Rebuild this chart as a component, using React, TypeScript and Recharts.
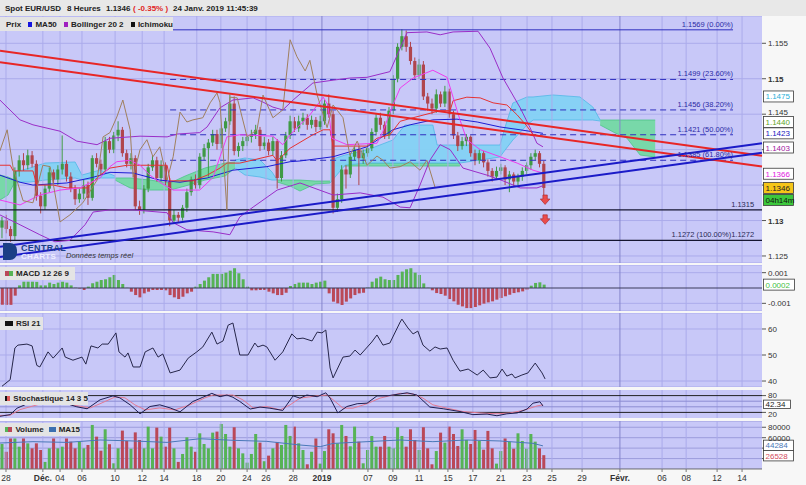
import React from 'react';
import {
  ComposedChart, Bar, Line, Area, Scatter, XAxis, YAxis, CartesianGrid,
  ReferenceLine, ReferenceDot, Cell,
} from 'recharts';

const FONT = '"Liberation Sans", Arial, Helvetica, sans-serif';
const CHART_W = 806;
const AXIS_W = 44;
const X_DOMAIN: [number, number] = [-0.465, 176.74];
const PLOT_BG = '#c8c8f8';
const GRID = '#ababeb';
const GRID_DARK = '#8585cc';
const UP = '#3f9a45';
const DOWN = '#b0454d';
const VOL_UP = '#56b356';
const VOL_DOWN = '#ba4858';

// ---------- x axis (8-hour candle slots) ----------
const tickPositions = [0.93, 9.5, 13.5, 18.6, 26.3, 32.6, 37.7, 45.3, 50.9, 57, 61.4, 67.7, 74.4, 85.1, 90.9, 97, 103.7, 109.5, 116, 122.1, 127.9, 134.9, 143.7, 153.5, 159.1, 166.3, 172.1];
const tickLabels = ['28', 'Déc.', '04', '06', '10', '12', '14', '18', '20', '24', '26', '28', '2019', '07', '09', '11', '15', '17', '21', '23', '25', '29', 'Févr.', '06', '08', '12', '14'];
const boldTickLabels = ['Déc.', '2019', 'Févr.'];
const darkGridLabels = ['2019', 'Févr.'];

// ---------- candles ----------
const opens = [
  1.1290, 1.1300, 1.1288, 1.1278, 1.1370, 1.1385, 1.1378, 1.1392, 1.1380, 1.1335,
  1.1320, 1.1345, 1.1368, 1.1358, 1.1372, 1.1380, 1.1362, 1.1345, 1.1330, 1.1338,
  1.1350, 1.1332, 1.1388, 1.1380, 1.1372, 1.1412, 1.1400, 1.1420, 1.1428, 1.1395,
  1.1380, 1.1388, 1.1320, 1.1315, 1.1345, 1.1375, 1.1385, 1.1360, 1.1378, 1.1355,
  1.1300, 1.1308, 1.1304, 1.1318, 1.1340, 1.1358, 1.1350, 1.1390, 1.1402, 1.1410,
  1.1422, 1.1408, 1.1430, 1.1440, 1.1465, 1.1398, 1.1405, 1.1412, 1.1418, 1.1422,
  1.1428, 1.1405, 1.1410, 1.1398, 1.1412, 1.1360, 1.1392, 1.1420, 1.1440, 1.1430,
  1.1440, 1.1445, 1.1435, 1.1442, 1.1432, 1.1440, 1.1465, 1.1450, 1.1318, 1.1330,
  1.1372, 1.1365, 1.1390, 1.1400, 1.1388, 1.1395, 1.1402, 1.1425, 1.1445, 1.1435,
  1.1420, 1.1455, 1.1500, 1.1545, 1.1560, 1.1545, 1.1525, 1.1505, 1.1520, 1.1475,
  1.1465, 1.1458, 1.1478, 1.1465, 1.1482, 1.1450, 1.1420, 1.1405, 1.1412, 1.1418,
  1.1395, 1.1385, 1.1395, 1.1382, 1.1370, 1.1362, 1.1370, 1.1375, 1.1358, 1.1365,
  1.1355, 1.1362, 1.1370, 1.1378, 1.1390, 1.1395, 1.1380,
];
const highs = [
  1.1305, 1.1308, 1.1292, 1.1375, 1.1392, 1.1395, 1.1400, 1.1398, 1.1385, 1.1340,
  1.1350, 1.1375, 1.1372, 1.1378, 1.1420, 1.1385, 1.1368, 1.1350, 1.1345, 1.1358,
  1.1355, 1.1392, 1.1395, 1.1386, 1.1418, 1.1418, 1.1425, 1.1440, 1.1432, 1.1400,
  1.1395, 1.1392, 1.1328, 1.1350, 1.1380, 1.1392, 1.1390, 1.1385, 1.1382, 1.1360,
  1.1315, 1.1312, 1.1322, 1.1345, 1.1362, 1.1365, 1.1395, 1.1408, 1.1415, 1.1428,
  1.1428, 1.1435, 1.1445, 1.1478, 1.1475, 1.1410, 1.1418, 1.1422, 1.1428, 1.1435,
  1.1432, 1.1418, 1.1415, 1.1418, 1.1415, 1.1398, 1.1425, 1.1448, 1.1446, 1.1448,
  1.1452, 1.1450, 1.1448, 1.1446, 1.1448, 1.1470, 1.1478, 1.1455, 1.1338, 1.1378,
  1.1378, 1.1395, 1.1405, 1.1405, 1.1400, 1.1408, 1.1430, 1.1450, 1.1452, 1.1440,
  1.1460, 1.1505, 1.1550, 1.1570, 1.1568, 1.1552, 1.1530, 1.1528, 1.1525, 1.1480,
  1.1472, 1.1485, 1.1482, 1.1490, 1.1486, 1.1455, 1.1425, 1.1418, 1.1422, 1.1420,
  1.1400, 1.1400, 1.1398, 1.1386, 1.1374, 1.1376, 1.1380, 1.1378, 1.1370, 1.1368,
  1.1366, 1.1375, 1.1382, 1.1395, 1.1400, 1.1398, 1.1384,
];
const lows = [
  1.1275, 1.1282, 1.1270, 1.1272, 1.1362, 1.1370, 1.1372, 1.1375, 1.1328, 1.1310,
  1.1315, 1.1340, 1.1352, 1.1350, 1.1365, 1.1355, 1.1340, 1.1322, 1.1325, 1.1330,
  1.1322, 1.1328, 1.1375, 1.1365, 1.1368, 1.1395, 1.1395, 1.1412, 1.1390, 1.1375,
  1.1372, 1.1315, 1.1308, 1.1310, 1.1340, 1.1370, 1.1355, 1.1355, 1.1350, 1.1292,
  1.1295, 1.1298, 1.1300, 1.1312, 1.1335, 1.1345, 1.1345, 1.1385, 1.1362, 1.1405,
  1.1400, 1.1402, 1.1425, 1.1435, 1.1392, 1.1390, 1.1398, 1.1405, 1.1410, 1.1415,
  1.1398, 1.1400, 1.1392, 1.1392, 1.1345, 1.1355, 1.1388, 1.1415, 1.1425, 1.1425,
  1.1435, 1.1428, 1.1430, 1.1425, 1.1428, 1.1435, 1.1445, 1.1310, 1.1312, 1.1325,
  1.1345, 1.1360, 1.1385, 1.1350, 1.1380, 1.1390, 1.1398, 1.1420, 1.1428, 1.1415,
  1.1415, 1.1450, 1.1495, 1.1540, 1.1538, 1.1520, 1.1500, 1.1500, 1.1470, 1.1455,
  1.1450, 1.1452, 1.1460, 1.1460, 1.1445, 1.1415, 1.1398, 1.1400, 1.1405, 1.1390,
  1.1378, 1.1380, 1.1375, 1.1362, 1.1355, 1.1358, 1.1365, 1.1350, 1.1340, 1.1348,
  1.1350, 1.1356, 1.1365, 1.1372, 1.1385, 1.1375, 1.1330,
];
const closes = [
  1.1300, 1.1288, 1.1278, 1.1370, 1.1385, 1.1378, 1.1392, 1.1380, 1.1335, 1.1320,
  1.1345, 1.1368, 1.1358, 1.1372, 1.1380, 1.1362, 1.1345, 1.1330, 1.1338, 1.1350,
  1.1332, 1.1388, 1.1380, 1.1372, 1.1412, 1.1400, 1.1420, 1.1428, 1.1395, 1.1380,
  1.1388, 1.1320, 1.1315, 1.1345, 1.1375, 1.1385, 1.1360, 1.1378, 1.1355, 1.1300,
  1.1308, 1.1304, 1.1318, 1.1340, 1.1358, 1.1350, 1.1390, 1.1402, 1.1410, 1.1422,
  1.1408, 1.1430, 1.1440, 1.1465, 1.1398, 1.1405, 1.1412, 1.1418, 1.1422, 1.1428,
  1.1405, 1.1410, 1.1398, 1.1412, 1.1360, 1.1392, 1.1420, 1.1440, 1.1430, 1.1440,
  1.1445, 1.1435, 1.1442, 1.1432, 1.1440, 1.1465, 1.1450, 1.1318, 1.1330, 1.1372,
  1.1365, 1.1390, 1.1400, 1.1388, 1.1395, 1.1402, 1.1425, 1.1445, 1.1435, 1.1420,
  1.1455, 1.1500, 1.1545, 1.1560, 1.1545, 1.1525, 1.1505, 1.1520, 1.1475, 1.1465,
  1.1458, 1.1478, 1.1465, 1.1482, 1.1450, 1.1420, 1.1405, 1.1412, 1.1418, 1.1395,
  1.1385, 1.1395, 1.1382, 1.1370, 1.1362, 1.1370, 1.1375, 1.1358, 1.1365, 1.1355,
  1.1362, 1.1370, 1.1378, 1.1390, 1.1395, 1.1380, 1.1346,
];

// ---------- overlays: [slot, price] ----------
const bollUpper = [[-0.5, 1.1470], [4.2, 1.1442], [7.2, 1.1435], [13.5, 1.1426], [17.4, 1.1412], [22.1, 1.1407], [25.1, 1.1416], [32.1, 1.1419], [38.4, 1.1418], [40.7, 1.1422], [46.0, 1.1424], [47.7, 1.1432], [50.7, 1.1459], [53.7, 1.1470], [58.4, 1.1473], [60.7, 1.1467], [63.0, 1.1460], [65.3, 1.1456], [67.7, 1.1470], [72.3, 1.1494], [77.0, 1.1498], [80.9, 1.1501], [84.9, 1.1502], [90.2, 1.1510], [92.6, 1.1543], [94.2, 1.1565], [98.8, 1.1566], [101.9, 1.1562], [104.9, 1.1566], [110.7, 1.1567], [113.5, 1.1543], [116.5, 1.1501], [120.5, 1.1459], [122.8, 1.1431], [124.4, 1.1409], [125.8, 1.1404]];
const bollLower = [[-0.5, 1.1308], [4.2, 1.1294], [8.8, 1.1280], [12.3, 1.1270], [15.8, 1.1272], [19.3, 1.1294], [21.2, 1.1312], [25.1, 1.1315], [30.5, 1.1315], [38.4, 1.1311], [39.8, 1.1297], [43.0, 1.1287], [49.1, 1.1284], [53.0, 1.1280], [55.3, 1.1305], [58.4, 1.1319], [64.0, 1.1343], [69.3, 1.1353], [77.0, 1.1336], [83.3, 1.1339], [88.6, 1.1333], [92.6, 1.1319], [94.9, 1.1318], [97.2, 1.1350], [99.5, 1.1385], [101.9, 1.1407], [104.2, 1.1400], [107.2, 1.1374], [112.8, 1.1364], [116.5, 1.1356], [120.5, 1.1346], [124.4, 1.1346], [125.8, 1.1349]];
const tenkan = [[-0.5, 1.1329], [4.2, 1.1322], [8.8, 1.1336], [13.5, 1.1343], [18.1, 1.1346], [22.8, 1.1360], [25.1, 1.1376], [26.7, 1.1383], [29.8, 1.1385], [32.1, 1.1378], [34.4, 1.1364], [36.7, 1.1354], [39.8, 1.1343], [46.0, 1.1343], [49.1, 1.1361], [50.7, 1.1390], [52.3, 1.1418], [55.3, 1.1421], [63.0, 1.1419], [65.3, 1.1407], [67.0, 1.1421], [69.3, 1.1435], [71.6, 1.1449], [74.7, 1.1474], [75.8, 1.1463], [76.7, 1.1416], [80.2, 1.1407], [87.2, 1.1409], [88.6, 1.1426], [90.9, 1.1463], [92.6, 1.1487], [95.6, 1.1501], [100.2, 1.1512], [103.5, 1.1502], [104.9, 1.1474], [106.5, 1.1442], [108.1, 1.1414], [111.2, 1.1400], [115.8, 1.1390], [119.8, 1.1381], [123.5, 1.1371], [125.8, 1.1367]];
const kijun = [[-0.5, 1.1378], [1.9, 1.1378], [2.6, 1.1370], [7.2, 1.1370], [8.1, 1.1350], [11.9, 1.1350], [15.1, 1.1346], [19.8, 1.1346], [22.8, 1.1364], [25.1, 1.1374], [29.1, 1.1378], [38.4, 1.1378], [39.1, 1.1356], [44.4, 1.1356], [47.7, 1.1364], [50.7, 1.1374], [52.3, 1.1381], [55.3, 1.1381], [63.0, 1.1392], [64.0, 1.1384], [67.0, 1.1402], [72.3, 1.1421], [74.7, 1.1428], [76.3, 1.1428], [77.0, 1.1405], [84.9, 1.1405], [87.2, 1.1416], [90.2, 1.1421], [92.6, 1.1440], [95.6, 1.1445], [101.9, 1.1455], [104.2, 1.1455], [104.9, 1.1469], [108.1, 1.1474], [111.2, 1.1473], [114.2, 1.1466], [117.4, 1.1463], [119.8, 1.1449], [122.1, 1.1433], [123.5, 1.1421], [125.8, 1.1419]];
const ma50 = [[-0.5, 1.1364], [4.2, 1.1354], [7.2, 1.1350], [15.1, 1.1353], [21.2, 1.1361], [25.1, 1.1368], [30.5, 1.1367], [36.7, 1.1357], [41.4, 1.1354], [47.7, 1.1360], [53.7, 1.1371], [61.6, 1.1376], [67.0, 1.1383], [69.3, 1.1384], [77.0, 1.1390], [84.9, 1.1404], [90.9, 1.1428], [94.9, 1.1435], [100.2, 1.1442], [105.8, 1.1443], [110.5, 1.1439], [115.8, 1.1432], [120.5, 1.1428], [125.8, 1.1423]];
const chikou = [[-0.5, 1.1398], [1.2, 1.1428], [2.6, 1.1374], [4.9, 1.1328], [7.2, 1.1325], [9.5, 1.1378], [11.2, 1.1376], [13.5, 1.1298], [15.8, 1.1308], [18.8, 1.1325], [22.1, 1.1357], [23.5, 1.1418], [25.1, 1.1424], [26.7, 1.1446], [28.1, 1.1470], [29.8, 1.1428], [30.5, 1.1361], [32.1, 1.1400], [33.7, 1.1414], [35.1, 1.1390], [36.7, 1.1404], [38.4, 1.1357], [39.8, 1.1390], [41.4, 1.1453], [43.0, 1.1439], [44.4, 1.1442], [46.7, 1.1445], [48.4, 1.1466], [50.0, 1.1480], [50.7, 1.1466], [52.3, 1.1315], [53.0, 1.1474], [54.7, 1.1473], [57.0, 1.1418], [59.3, 1.1428], [60.7, 1.1477], [63.0, 1.1445], [65.3, 1.1456], [67.0, 1.1555], [68.6, 1.1531], [70.5, 1.1511], [71.6, 1.1526], [73.3, 1.1477], [75.6, 1.1431], [77.0, 1.1463], [79.3, 1.1445], [80.9, 1.1392], [82.6, 1.1412], [84.9, 1.1378], [87.2, 1.1391], [88.6, 1.1385], [90.2, 1.1374], [92.6, 1.1376], [94.9, 1.1383], [97.2, 1.1371], [98.8, 1.1385], [100.7, 1.1347]];

// ---------- Ichimoku cloud pieces: [slot, low, high] ----------
const cloudGreen1 = [[-0.5, 1.13289, 1.13642], [1.4, 1.1336, 1.13614], [3.0, 1.13543, 1.13571]];
const cloudCyan1 = [[3.0, 1.13543, 1.13684], [6.5, 1.13543, 1.13741], [10.0, 1.13571, 1.13811], [17.0, 1.1360, 1.13826], [18.6, 1.13571, 1.13642], [22.8, 1.1360, 1.13712], [26.3, 1.1360, 1.13628]];
const cloudGreen2 = [[26.3, 1.13571, 1.1360], [29.8, 1.13459, 1.1360], [34.4, 1.1343, 1.13571], [39.1, 1.1343, 1.13529], [42.6, 1.13487, 1.13628], [47.2, 1.13571, 1.13741], [51.9, 1.13628, 1.13811], [54.2, 1.13741, 1.13826]];
const cloudCyan2 = [[54.2, 1.13741, 1.13854], [56.5, 1.13642, 1.13882], [60.0, 1.13614, 1.13854], [62.8, 1.13571, 1.13684], [64.0, 1.13571, 1.13571]];
const cloudGreen3 = [[64.0, 1.13543, 1.13571], [67.0, 1.13487, 1.13571], [69.3, 1.13416, 1.13571], [72.8, 1.13515, 1.13557], [76.3, 1.13529, 1.13557]];
const cloudCyan3 = [[76.3, 1.13529, 1.13854], [79.8, 1.13783, 1.13924], [84.9, 1.13811, 1.13995], [90.9, 1.13811, 1.14136], [93.7, 1.13811, 1.14347], [100.2, 1.13811, 1.14347], [101.2, 1.13811, 1.14065], [106.5, 1.13811, 1.14065], [115.8, 1.13896, 1.14065], [117.0, 1.13995, 1.14319], [118.8, 1.14136, 1.14658], [122.1, 1.14347, 1.14743], [123.5, 1.14418, 1.14743], [128.1, 1.14418, 1.14771], [134.4, 1.14418, 1.14743], [137.4, 1.14418, 1.14601], [139.1, 1.14404, 1.14418]];
const cloudGreen4 = [[139.1, 1.14347, 1.14418], [142.6, 1.14235, 1.14418], [145.3, 1.14164, 1.14418], [148.4, 1.13924, 1.14418], [151.9, 1.13896, 1.14418]];
const cloudGreen5 = [[77.0, 1.13769, 1.13811], [106.5, 1.13769, 1.13811]];

// ---------- trend lines, levels ----------
const redTrends = [[[-0.465, 1.15396], [176.74, 1.13915]], [[-0.465, 1.15232], [176.74, 1.13762]]];
const blueTrends = [[[-0.465, 1.12631], [176.74, 1.14090]], [[-0.465, 1.12486], [176.74, 1.13957]]];
const fibStart = 39.1;
const fibEnd = 170;
const fibLevels = [1.1569, 1.1499, 1.1456, 1.1421, 1.1385];
const fibLabels = ['1.1569 (0.00%)', '1.1499 (23.60%)', '1.1456 (38.20%)', '1.1421 (50.00%)', '1.1385 (61.80%)'];
const supportLevels = [1.1315, 1.1272];
const supportLabels = ['1.1315', '1.1272 (100.00%)1.1272'];
const supportLabelX = 174.9;
const arrowMarks = [{ x: 126.3, y: 1.1329 }, { x: 126.3, y: 1.1301 }];

const priceTicks = [1.155, 1.15, 1.145, 1.14, 1.135, 1.13, 1.125];
const priceTickLabels = ['1.155', '1.15', '1.145', '', '', '1.13', '1.125'];
const PRICE_DOMAIN: [number, number] = [1.12401, 1.15885];

const priceBoxValues = [1.1475, 1.1440, 1.1423, 1.1403, 1.1366, 1.1346];
const priceBoxLabels = ['1.1475', '1.1440', '1.1423', '1.1403', '1.1366', '1.1346'];
const priceBoxColors = ['#2ab0d8', '#5fa52a', '#2020c0', '#a020a0', '#e020e0', '#222'];
const priceBoxBgs = ['#ffffff', '#ffffff', '#ffffff', '#ffffff', '#ffffff', '#f5c518'];
const timerLabel = '04h14m';

// ---------- MACD histogram ----------
const macdHist = [
  -0.0011, -0.0011, -0.0011, -0.0005,
  0.00017, 0.00041, 0.00041, 0.00041, 0.0004, 0.00017, 0.00017, 0.00035, 0.00026, 0.00035, 0.00041, 0.00035, 0.00017,
  0.00002, -0.00003, -0.00013, 0.00009, 0.00031, 0.00041, 0.00052, 0.00057, 0.0007, 0.00085, 0.00052, 0.00026, 0.00002,
  -0.00024, -0.00046, -0.00061, -0.00035, -0.00024, -0.00013, -0.00013, -0.00013, -0.00015, -0.00046, -0.00061, -0.00072, -0.00057, -0.00035, -0.00024,
  0.00009, 0.00026, 0.00048, 0.0007, 0.00092, 0.00092, 0.00092, 0.001, 0.00113, 0.00129, 0.00096, 0.00057, 0.00009,
  -0.00015, -0.00015, -0.00013, -0.00013, -0.00024, -0.00035, -0.00046, -0.00046, -0.00031,
  0.00013, 0.00026, 0.00035, 0.00035, 0.00035, 0.00026, 0.00035, 0.00041, 0.00048,
  -0.00035, -0.00089, -0.001, -0.00111, -0.00089, -0.00068, -0.00046, -0.00035, -0.00031,
  0.00004, 0.00041, 0.00063, 0.00074, 0.00057, 0.00052, 0.00052, 0.00085, 0.00107, 0.00122, 0.00129, 0.001, 0.00085, 0.0003, 0.00002,
  -0.00015, -0.00033, -0.00039, -0.0005, -0.00072, -0.00087, -0.00109, -0.0012, -0.00131, -0.00131, -0.00124, -0.00113, -0.00102, -0.00094, -0.00087, -0.00076, -0.00065, -0.00054, -0.00044, -0.00033, -0.00028, -0.00022, -0.00011,
  0.00015, 0.00033, 0.00037, 0.00022,
];
const macdTicks = [0.001, -0.001];
const macdTickLabels = ['0.001', '-0.001'];
const macdLastLabel = '0.0002';

// ---------- RSI 21: [slot, value] ----------
const rsi = [[0.0, 38], [1.9, 40.5], [3.0, 52.7], [3.7, 53.8], [5.8, 54.2], [7.0, 53.5], [8.1, 46], [8.8, 45.4], [10.7, 51.2], [11.9, 48.8], [14.0, 52.7], [14.7, 49.2], [16.5, 48], [18.6, 49.2], [19.5, 46.5], [20.7, 53.5], [22.3, 52.7], [23.3, 54.2], [24.7, 54.2], [26.5, 58.5], [27.2, 51.2], [28.6, 49.2], [29.3, 50.8], [30.5, 45.4], [32.1, 45.4], [33.3, 51.2], [35.1, 52.7], [36.3, 49.2], [37.4, 50.4], [39.1, 43.1], [41.4, 44.2], [43.3, 48.8], [45.3, 51.2], [46.7, 53.1], [48.8, 58.8], [50.0, 54.2], [51.4, 55.4], [52.6, 61.5], [53.7, 62.3], [55.3, 50], [57.2, 50], [58.8, 54.6], [59.5, 53.1], [60.7, 53.8], [61.6, 53.1], [63.5, 48], [65.3, 51.2], [67.4, 58.1], [68.6, 56.2], [70.0, 56.5], [72.1, 55.4], [73.3, 58.8], [74.4, 58.5], [75.3, 59.6], [76.3, 45], [77.0, 41.2], [79.3, 49.2], [80.9, 49.6], [82.1, 51.9], [83.3, 50], [86.0, 55], [87.2, 57.7], [88.6, 53.8], [90.2, 54.6], [92.6, 62.7], [93.0, 63.8], [94.4, 60.4], [95.6, 58.1], [96.7, 59.2], [97.9, 53.8], [99.5, 51.5], [100.7, 53.1], [101.9, 52.3], [103.5, 52.7], [104.9, 48], [106.5, 43.8], [108.4, 44.6], [110.5, 42.3], [111.9, 44.2], [113.5, 41.2], [115.1, 41.5], [116.3, 44.6], [117.4, 41.9], [118.6, 42.7], [119.3, 41.2], [120.9, 42.3], [122.3, 43.1], [124.0, 46.9], [125.6, 43.1], [126.3, 40.8]];
const rsiTicks = [60, 50, 40];

// ---------- Stochastic 14 3 5: [slot, value] ----------
const stochK = [[-0.5, 6], [1.9, 12], [3.5, 35], [6.5, 55], [11.2, 70], [17.4, 40], [19.8, 33], [22.8, 65], [25.8, 79], [27.4, 72], [29.8, 47], [32.1, 15], [34.4, 41], [36.7, 47], [39.1, 36], [41.4, 22], [44.4, 59], [46.7, 74], [48.8, 88], [50.7, 76], [52.3, 82], [53.7, 74], [55.3, 59], [57.7, 32], [60.0, 39], [62.3, 35], [65.3, 27], [67.7, 79], [69.3, 71], [70.9, 82], [73.3, 76], [75.3, 90], [76.3, 71], [78.1, 18], [80.2, 41], [82.6, 51], [84.9, 53], [87.2, 79], [89.5, 79], [92.6, 86], [94.2, 90], [96.5, 82], [99.5, 39], [102.6, 33], [106.5, 23], [109.5, 12], [112.8, 14], [115.1, 8], [117.4, 15], [119.8, 18], [122.1, 32], [123.5, 53], [125.1, 58], [125.8, 43]];
const stochD = [[-0.5, 9], [1.9, 10], [4.2, 30], [11.2, 60], [20.5, 36], [22.8, 51], [26.3, 75], [28.6, 72], [30.9, 47], [33.3, 29], [36.7, 36], [40.2, 29], [43.7, 47], [47.2, 72], [49.1, 82], [53.7, 82], [56.0, 65], [58.4, 36], [61.6, 41], [64.7, 29], [67.0, 47], [69.3, 71], [73.3, 79], [75.6, 82], [77.0, 65], [79.3, 35], [81.6, 35], [84.9, 51], [87.9, 71], [90.9, 82], [92.6, 88], [95.6, 86], [97.9, 71], [100.2, 47], [103.5, 35], [107.2, 23], [111.2, 18], [115.1, 15], [118.1, 18], [121.2, 27], [124.4, 43], [125.8, 47]];
const stochTicks = [80, 20];
const stochValue = 42.34;

// ---------- Volume ----------
const volumes = [
  47900, 33000, 58500, 58500, 42800, 58500, 49200, 39600, 49200, 36400,
  13600, 39600, 58500, 39600, 42800, 58500, 52400, 39600, 52400, 39600,
  46000, 84400, 62000, 35100, 76100, 47500, 10900, 39600, 73600, 53700,
  38900, 70200, 55600, 39600, 81200, 39600, 79300, 62000, 42800, 79300,
  39600, 13600, 28800, 60700, 42800, 33000, 68400, 47900, 39600, 69700,
  71700, 86300, 67100, 42800, 80000, 39600, 30000, 12200, 28800, 67100,
  50500, 14900, 25600, 39600, 51800, 46000, 84400, 63300, 81200, 49200,
  36400, 9000, 33000, 58500, 10300, 34400, 76100, 68400, 49200, 84400,
  63300, 43500, 81200, 52400, 10900, 36400, 63300, 42800, 42800, 63300,
  42800, 39600, 80000, 63300, 42800, 76100, 55600, 36400, 80000, 39600,
  9000, 34400, 69700, 50500, 81200, 67100, 44100, 76100, 55600, 47900,
  74800, 53700, 37000, 73000, 39600, 10300, 34400, 58500, 52400, 38900,
  68400, 53700, 38900, 67100, 52400, 39600, 26528,
];
const volumeMA = [[-0.5, 49800], [7.2, 52400], [15.1, 51000], [22.8, 55600], [30.5, 53700], [38.4, 51000], [46.0, 58000], [53.7, 55000], [61.6, 53000], [69.3, 46000], [74.0, 42800], [77.0, 49000], [84.9, 52400], [92.6, 55600], [100.2, 52400], [108.1, 55600], [115.8, 53700], [123.5, 49200], [125.8, 44300]];
const volTicks = [80000, 60000, 40000, 20000];
const volTickLabels = ['80000', '60000', '', ''];
const volMALast = 44284;
const VOL_DOMAIN: [number, number] = [0, 92000];

// ---------- tables built from the arrays ----------
const candleData = closes.map((c, i) => ({ x: i, open: opens[i], high: highs[i], low: lows[i], close: c, hl: [lows[i], highs[i]] }));
const pts = (a: number[][]) => a.map(([x, v]) => ({ x, v }));
const rng = (a: number[][]) => a.map(([x, lo, hi]) => ({ x, r: [lo, hi] }));
const macdData = macdHist.map((v, i) => ({ x: i, v }));
const volData = volumes.map((v, i) => ({ x: i, v, up: closes[i] >= opens[i] }));

// ---------- shapes ----------
const Candle = (props: any) => {
  const { x, y, width, height, payload } = props;
  if (!payload) return null;
  const { open, close, high, low } = payload;
  const color = close >= open ? UP : DOWN;
  const h = Math.abs(height);
  const top = height >= 0 ? y : y + height;
  const k = high - low > 0 ? h / (high - low) : 0;
  const yO = top + (high - open) * k;
  const yC = top + (high - close) * k;
  const cx = x + width / 2;
  return (
    <g>
      <line x1={cx} x2={cx} y1={top} y2={top + h} stroke={color} strokeWidth={1} />
      <rect x={cx - 1.6} y={Math.min(yO, yC)} width={3.2} height={Math.max(1, Math.abs(yO - yC))} fill={color} />
    </g>
  );
};

const VolBar = (props: any) => {
  const { x, y, width, height, payload } = props;
  if (!payload) return null;
  const cx = x + width / 2;
  const h = Math.abs(height);
  const top = height >= 0 ? y : y + height;
  return <rect x={cx - 1.5} y={top} width={3} height={h} fill={payload.up ? VOL_UP : VOL_DOWN} />;
};

const DownArrow = (p: any) => {
  const { cx, cy } = p;
  return <path d={`M${cx - 2.2},${cy - 5} h4.4 v4 h2.6 l-4.8,5.5 l-4.8,-5.5 h2.6 z`} fill="#ea4c4c" stroke="#a82424" strokeWidth={0.6} />;
};

const valueBox = (text: string, color: string, bg: string, dy = 0, w = 30, h = 11) => (p: any) => (
  <g>
    <rect x={p.cx + 1.5} y={p.cy + dy - h / 2} width={w} height={h} fill={bg} stroke="#3a3a3a" strokeWidth={0.8} />
    <text x={p.cx + 3.5} y={p.cy + dy + 3} fontSize={8} fill={color} fontFamily={FONT}>{text}</text>
  </g>
);

const labelText = (text: string, color = '#2b2ba6', size = 7.5) => (p: any) => (
  <text x={p.cx} y={p.cy - 3} textAnchor="end" fontSize={size} fill={color} fontFamily={FONT}>{text}</text>
);

const makeYTick = (ticks: number[], labels: string[], bold: string[] = [], dys: number[] = []) => (props: any) => {
  const i = ticks.indexOf(props.payload.value);
  const label = i >= 0 ? labels[i] : String(props.payload.value);
  if (!label) return <g />;
  const dy = i >= 0 && dys[i] !== undefined ? dys[i] : 3;
  return (
    <text x={props.x} y={props.y} dy={dy} fontSize={8} fill="#333" fontFamily={FONT} fontWeight={bold.includes(label) ? 'bold' : 'normal'} textAnchor="start">{label}</text>
  );
};

const XTick = (props: any) => {
  const i = tickPositions.indexOf(props.payload.value);
  const label = i >= 0 ? tickLabels[i] : '';
  return (
    <text x={props.x} y={props.y + 7} textAnchor="middle" fontSize={8.5} fill="#333" fontFamily={FONT} fontWeight={boldTickLabels.includes(label) ? 'bold' : 'normal'}>{label}</text>
  );
};

const vGrid = (p: string) => tickPositions.map((t, i) => (
  <ReferenceLine key={p + i} x={t} stroke={darkGridLabels.includes(tickLabels[i]) ? GRID_DARK : GRID} strokeWidth={1} />
));

const hiddenX = <XAxis dataKey="x" type="number" domain={X_DOMAIN} allowDataOverflow hide />;

const lineProps = { dot: false, activeDot: false, isAnimationActive: false, dataKey: 'v', strokeWidth: 1 } as any;

// ---------- panels ----------
const PriceChart = () => (
  <ComposedChart width={CHART_W} height={247} data={candleData} margin={{ top: 0, right: 0, bottom: 0, left: 0 }}>
    <CartesianGrid vertical={false} stroke={GRID} fill={PLOT_BG} fillOpacity={1} />
    {hiddenX}
    <YAxis orientation="right" width={AXIS_W} domain={PRICE_DOMAIN} allowDataOverflow ticks={priceTicks} interval={0}
      tick={makeYTick(priceTicks, priceTickLabels, ['1.15', '1.13'], [3, 3, 0.5])} tickSize={4} axisLine={false} tickLine={{ stroke: '#555' }} />
    {vGrid('pv')}
    {[cloudGreen1, cloudGreen2, cloudGreen3, cloudGreen4, cloudGreen5].map((c, i) => (
      <Area key={'g' + i} data={rng(c)} dataKey="r" type="linear" stroke="#4cc488" strokeWidth={0.8} fill="#74d9a4" fillOpacity={0.95} isAnimationActive={false} dot={false} activeDot={false} />
    ))}
    {[cloudCyan1, cloudCyan2, cloudCyan3].map((c, i) => (
      <Area key={'c' + i} data={rng(c)} dataKey="r" type="linear" stroke="#52b8e6" strokeWidth={0.8} fill="#84d2f4" fillOpacity={0.95} isAnimationActive={false} dot={false} activeDot={false} />
    ))}
    {fibLevels.map((v, i) => (
      <ReferenceLine key={'f' + i} segment={[{ x: fibStart, y: v }, { x: fibEnd, y: v }]} stroke="#2f2fbf" strokeWidth={1} strokeDasharray={i === 0 ? undefined : '6 4'} ifOverflow="visible" />
    ))}
    {supportLevels.map((v, i) => (
      <ReferenceLine key={'s' + i} y={v} stroke="#151530" strokeWidth={1.4} />
    ))}
    <Line data={pts(ma50)} stroke="#1c1cd4" {...lineProps} />
    <Line data={pts(bollUpper)} stroke="#9a2ec8" {...lineProps} />
    <Line data={pts(bollLower)} stroke="#9a2ec8" {...lineProps} />
    <Line data={pts(kijun)} stroke="#e63232" {...lineProps} />
    <Line data={pts(tenkan)} stroke="#ee3cee" {...lineProps} />
    <Line data={pts(chikou)} stroke="#a0805e" {...lineProps} />
    <Bar dataKey="hl" barSize={3} shape={Candle} isAnimationActive={false} />
    {redTrends.map((s, i) => (
      <ReferenceLine key={'r' + i} segment={[{ x: s[0][0], y: s[0][1] }, { x: s[1][0], y: s[1][1] }]} stroke="#e82626" strokeWidth={2} ifOverflow="visible" />
    ))}
    {blueTrends.map((s, i) => (
      <ReferenceLine key={'b' + i} segment={[{ x: s[0][0], y: s[0][1] }, { x: s[1][0], y: s[1][1] }]} stroke="#1b1bc8" strokeWidth={2} ifOverflow="visible" />
    ))}
    <Scatter data={arrowMarks} dataKey="y" shape={DownArrow} isAnimationActive={false} />
    {fibLevels.map((v, i) => (
      <ReferenceDot key={'fl' + i} x={fibEnd} y={v} r={0} ifOverflow="visible" shape={labelText(fibLabels[i])} />
    ))}
    {supportLevels.map((v, i) => (
      <ReferenceDot key={'sl' + i} x={supportLabelX} y={v} r={0} ifOverflow="visible" shape={labelText(supportLabels[i], '#2a2a55')} />
    ))}
    {priceBoxValues.map((v, i) => (
      <ReferenceDot key={'pb' + i} x={X_DOMAIN[1]} y={v} r={0} ifOverflow="visible" shape={valueBox(priceBoxLabels[i], priceBoxColors[i], priceBoxBgs[i], i === 1 ? 0.8 : 0)} />
    ))}
    <ReferenceDot x={X_DOMAIN[1]} y={closes[closes.length - 1]} r={0} ifOverflow="visible" shape={valueBox(timerLabel, '#111', '#3cc83c', 12)} />
  </ComposedChart>
);

const MacdChart = () => (
  <ComposedChart width={CHART_W} height={46} data={macdData} margin={{ top: 0, right: 0, bottom: 0, left: 0 }}>
    <CartesianGrid vertical={false} stroke={GRID} fill={PLOT_BG} fillOpacity={1} />
    {hiddenX}
    <YAxis orientation="right" width={AXIS_W} domain={[-0.0015, 0.0015]} allowDataOverflow ticks={macdTicks} interval={0}
      tick={makeYTick(macdTicks, macdTickLabels)} tickSize={4} axisLine={false} tickLine={{ stroke: '#555' }} />
    {vGrid('mv')}
    <ReferenceLine y={0} stroke="#3a3a5a" strokeWidth={1} />
    <Bar dataKey="v" barSize={3} isAnimationActive={false}>
      {macdData.map((d, i) => <Cell key={i} fill={d.v >= 0 ? VOL_UP : VOL_DOWN} />)}
    </Bar>
    <ReferenceDot x={X_DOMAIN[1]} y={macdHist[macdHist.length - 1]} r={0} ifOverflow="visible" shape={valueBox(macdLastLabel, '#44c044', '#ffffff', 0, 31, 11)} />
  </ComposedChart>
);

const RsiChart = () => (
  <ComposedChart width={CHART_W} height={74} data={candleData} margin={{ top: 0, right: 0, bottom: 0, left: 0 }}>
    <CartesianGrid vertical={false} stroke={GRID} fill={PLOT_BG} fillOpacity={1} />
    {hiddenX}
    <YAxis orientation="right" width={AXIS_W} domain={[37.7, 66.15]} allowDataOverflow ticks={rsiTicks} interval={0}
      tick={makeYTick(rsiTicks, rsiTicks.map(String))} tickSize={4} axisLine={false} tickLine={{ stroke: '#555' }} />
    {vGrid('rv')}
    <Line data={pts(rsi)} stroke="#26264a" {...lineProps} />
  </ComposedChart>
);

const StochChart = () => (
  <ComposedChart width={CHART_W} height={28} data={candleData} margin={{ top: 0, right: 0, bottom: 0, left: 0 }}>
    <CartesianGrid vertical={false} horizontal={false} fill={PLOT_BG} fillOpacity={1} />
    {hiddenX}
    <YAxis orientation="right" width={AXIS_W} domain={[0, 100]} allowDataOverflow ticks={stochTicks} interval={0}
      tick={makeYTick(stochTicks, stochTicks.map(String), [], [2.5, 4.5])} tickSize={4} axisLine={false} tickLine={{ stroke: '#555' }} />
    {vGrid('sv')}
    <ReferenceLine y={60} stroke="#8c8cd2" />
    <ReferenceLine y={40} stroke="#8c8cd2" />
    <ReferenceLine y={80} stroke="#222" />
    <ReferenceLine y={20} stroke="#222" />
    <Line data={pts(stochD)} stroke="#e47a92" {...lineProps} />
    <Line data={pts(stochK)} stroke="#1e1e52" {...lineProps} />
    <ReferenceDot x={X_DOMAIN[1]} y={stochValue} r={0} ifOverflow="visible" shape={valueBox(stochValue.toFixed(2), '#222', '#ffffff', -1.8, 27, 8.5)} />
  </ComposedChart>
);

const VolumeChart = () => (
  <ComposedChart width={CHART_W} height={48} data={volData} margin={{ top: 0, right: 0, bottom: 0, left: 0 }}>
    <CartesianGrid vertical={false} stroke="#9c9cdc" fill={PLOT_BG} fillOpacity={1} />
    {hiddenX}
    <YAxis orientation="right" width={AXIS_W} domain={VOL_DOMAIN} allowDataOverflow ticks={volTicks} interval={0}
      tick={makeYTick(volTicks, volTickLabels)} tickSize={4} axisLine={false} tickLine={{ stroke: '#555' }} />
    {vGrid('vv')}
    <Bar dataKey="v" barSize={3} shape={VolBar} isAnimationActive={false} />
    <Line data={pts(volumeMA)} stroke="#4a78b8" {...lineProps} />
    <ReferenceDot x={X_DOMAIN[1]} y={volMALast} r={0} ifOverflow="visible" shape={valueBox(String(volMALast), '#4a78b8', '#ffffff', -0.5, 30, 10.5)} />
    <ReferenceDot x={X_DOMAIN[1]} y={volumes[volumes.length - 1]} r={0} ifOverflow="visible" shape={valueBox(String(volumes[volumes.length - 1]), '#d24a5c', '#ffffff', 0.5, 30, 10.5)} />
  </ComposedChart>
);

const TimeAxis = () => (
  <ComposedChart width={CHART_W} height={17} data={volData} margin={{ top: 0, right: AXIS_W, bottom: 0, left: 0 }}>
    <XAxis dataKey="x" type="number" domain={X_DOMAIN} allowDataOverflow ticks={tickPositions} interval={0} height={16}
      tick={XTick} tickSize={3} axisLine={{ stroke: '#777' }} tickLine={{ stroke: '#777' }} />
    <YAxis hide domain={VOL_DOMAIN} />
    <Line dataKey="v" stroke="none" dot={false} activeDot={false} isAnimationActive={false} />
  </ComposedChart>
);

const Icon = ({ a, b, w = 8 }: { a: string; b?: string; w?: number }) => (
  <span style={{ display: 'inline-block', width: w, height: 5, marginRight: 3, background: b ? `linear-gradient(90deg, ${a} 50%, ${b} 50%)` : a }} />
);

const PanelLabel = ({ top, width, children }: any) => (
  <div style={{ position: 'absolute', left: 0, top, width, height: 13, background: '#e4e4e4', display: 'flex', alignItems: 'center', paddingLeft: 5, boxSizing: 'border-box', fontSize: 8, fontWeight: 'bold', color: '#222', whiteSpace: 'nowrap' }}>
    {children}
  </div>
);

const abs = (left: number, top: number): React.CSSProperties => ({ position: 'absolute', left, top });

export default function App() {
  return (
    <div style={{ position: 'absolute', left: 0, top: 0, width: 806, height: 485, background: '#f7f7f7', overflow: 'hidden', fontFamily: FONT }}>
      <div style={{ position: 'absolute', left: 0, top: 0, width: 806, height: 16, background: '#e8e8e8', fontSize: 8, fontWeight: 'bold', color: '#222', lineHeight: '10px' }}>
        <span style={abs(5, 4)}>Spot EUR/USD</span>
        <span style={abs(67, 4)}>8 Heures</span>
        <span style={abs(106, 4)}>1.1346</span>
        <span style={{ ...abs(133, 4), color: '#e02424' }}>( -0.35% )</span>
        <span style={abs(173, 4)}>24 Janv. 2019 11:45:39</span>
      </div>
      <div style={abs(0, 16)}><PriceChart /></div>
      <div style={{ position: 'absolute', left: 0, top: 17, width: 173, height: 14, background: '#e4e4e4', fontSize: 8, fontWeight: 'bold', color: '#222', display: 'flex', alignItems: 'center', paddingLeft: 6, boxSizing: 'border-box', whiteSpace: 'nowrap' }}>
        <span style={{ marginRight: 7 }}>Prix</span>
        <Icon a="#1414e0" />
        <span style={{ marginRight: 7 }}>MA50</span>
        <Icon a="#a020c0" />
        <span style={{ marginRight: 7 }}>Bollinger 20 2</span>
        <Icon a="#111" />
        <span>Ichimoku</span>
      </div>
      <div style={{ position: 'absolute', left: 3, top: 243, width: 14, height: 17, background: '#1b3f86', borderRadius: '0 7px 7px 0' }} />
      <div style={{ position: 'absolute', left: 21, top: 243, fontSize: 9, fontWeight: 'bold', color: '#1b3f86', letterSpacing: 0.3 }}>CENTRAL</div>
      <div style={{ position: 'absolute', left: 21, top: 252, fontSize: 8, fontWeight: 'bold', color: '#eef', letterSpacing: 0.3 }}>CHARTS</div>
      <div style={{ position: 'absolute', left: 66, top: 251, fontSize: 7.5, fontStyle: 'italic', color: '#333' }}>Données temps réel</div>

      <div style={abs(0, 265)}><MacdChart /></div>
      <PanelLabel top={267} width={75}><Icon a={VOL_DOWN} b={VOL_UP} />MACD 12 26 9</PanelLabel>

      <div style={abs(0, 313)}><RsiChart /></div>
      <PanelLabel top={317} width={43}><Icon a="#111" />RSI 21</PanelLabel>

      <div style={abs(0, 390)}><StochChart /></div>
      <PanelLabel top={392} width={88}><Icon a="#111" b="#e05a5a" />Stochastique 14 3 5</PanelLabel>

      <div style={abs(0, 421)}><VolumeChart /></div>
      <PanelLabel top={423} width={80}><Icon a={VOL_UP} b={VOL_DOWN} />Volume<span style={{ width: 6 }} /><Icon a="#3b6fb0" w={7} />MA15</PanelLabel>

      <div style={abs(0, 468)}><TimeAxis /></div>
    </div>
  );
}
